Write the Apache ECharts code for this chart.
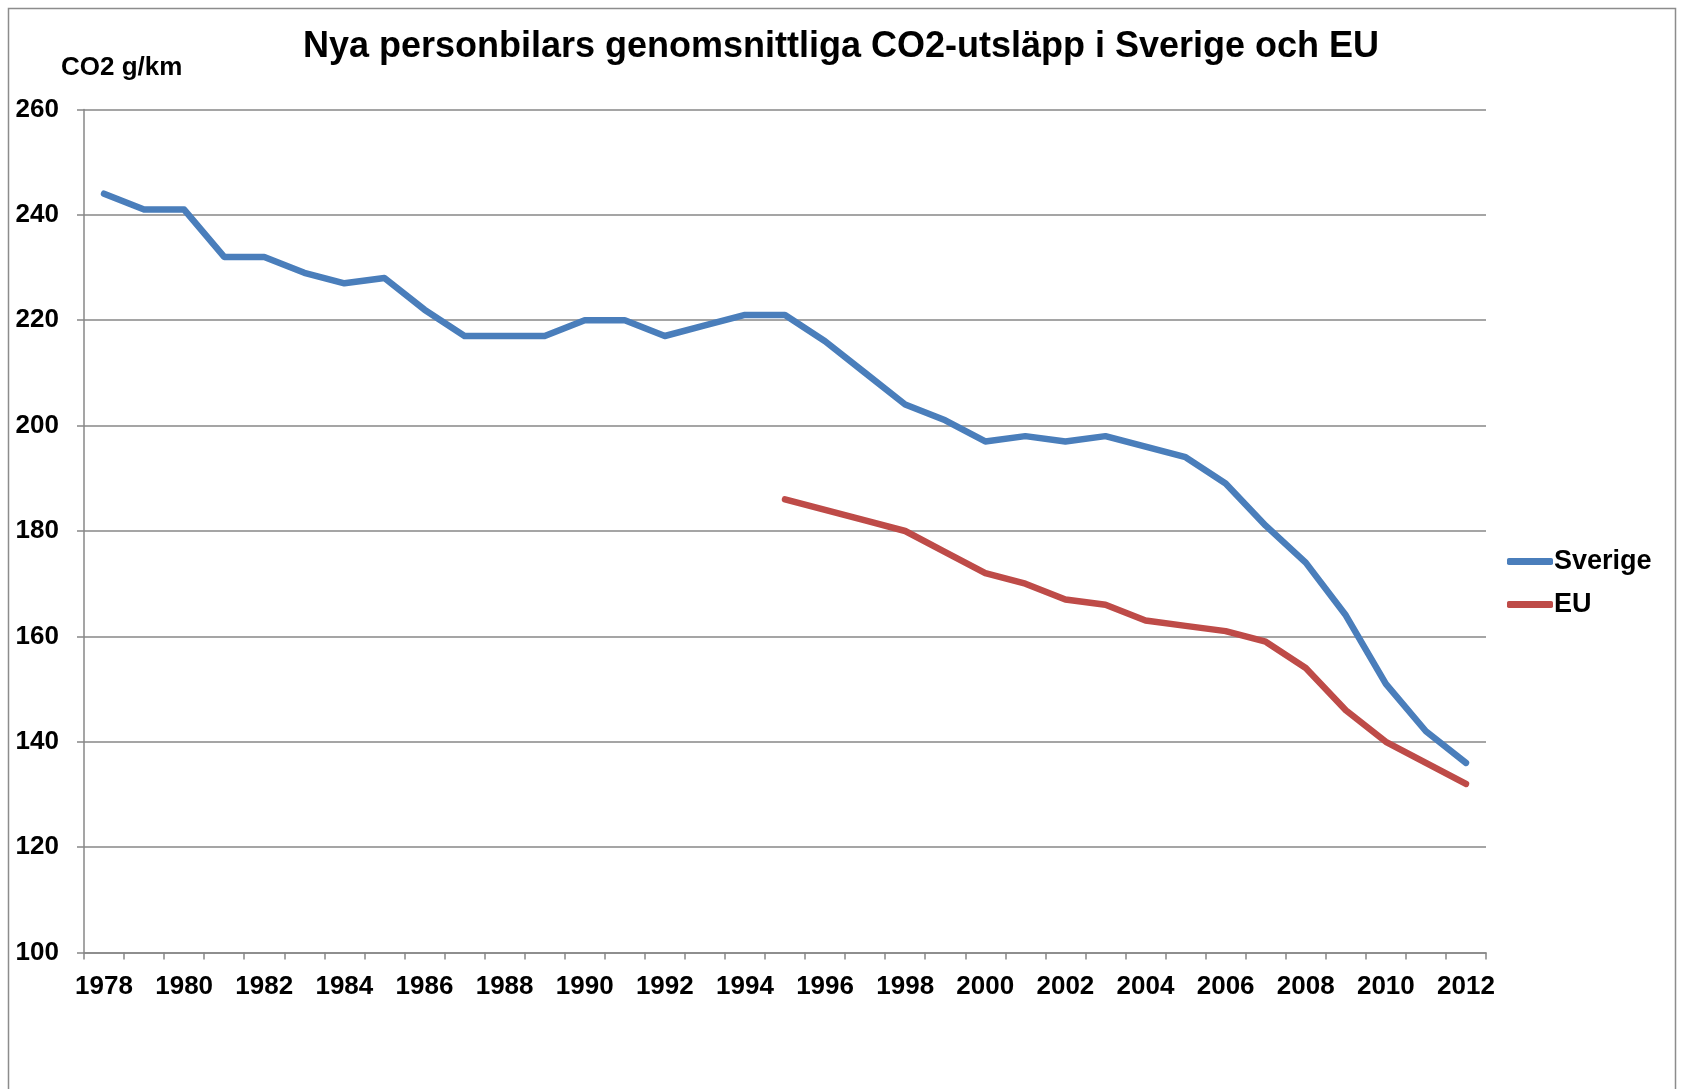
<!DOCTYPE html>
<html>
<head>
<meta charset="utf-8">
<title>CO2-utsläpp</title>
<script src="https://cdn.jsdelivr.net/npm/echarts@6/dist/echarts.min.js"></script>
<style>
  html, body { margin: 0; padding: 0; background: #fff; }
  #chart-container { width: 1682px; height: 1089px; }
</style>
</head>
<body>
<div id="chart-container"></div>
<script>
// data
var years = ['1978', '1979', '1980', '1981', '1982', '1983', '1984', '1985', '1986', '1987',
    '1988', '1989', '1990', '1991', '1992', '1993', '1994', '1995', '1996', '1997',
    '1998', '1999', '2000', '2001', '2002', '2003', '2004', '2005', '2006', '2007',
    '2008', '2009', '2010', '2011', '2012'];
var sverige = [244, 241, 241, 232, 232, 229, 227, 228, 222, 217,
    217, 217, 220, 220, 217, 219, 221, 221, 216, 210,
    204, 201, 197, 198, 197, 198, 196, 194, 189, 181,
    174, 164, 151, 142, 136];
var eu = [null, null, null, null, null, null, null, null, null, null,
    null, null, null, null, null, null, null, 186, 184, 182,
    180, 176, 172, 170, 167, 166, 163, 162, 161, 159,
    154, 146, 140, 136, 132];
var seriesNames = ['Sverige', 'EU'];
var yMin = 100, yMax = 260, yStep = 20;

var dom = document.getElementById('chart-container');
var myChart = echarts.init(dom, null, { renderer: 'canvas' });

var font = 'Liberation Sans, Arial, sans-serif';
var gray = '#878787';

var option = {
    backgroundColor: '#fff',
    animation: false,
    title: [
        {
            text: 'Nya personbilars genomsnittliga CO2-utsläpp i Sverige och EU',
            left: 'center',
            top: 24,
            textStyle: { fontFamily: font, fontWeight: 'bold', fontSize: 36, color: '#000' }
        },
        {
            text: 'CO2 g/km',
            left: 56,
            top: 50,
            textStyle: { fontFamily: font, fontWeight: 'bold', fontSize: 26, color: '#000' }
        }
    ],
    graphic: [
        {
            type: 'rect',
            shape: { x: 8.5, y: 8.5, width: 1667, height: 1200 },
            style: { fill: 'none', stroke: '#8c8c8c', lineWidth: 1.5 },
            silent: true
        }
    ],
    legend: {
        orient: 'vertical',
        left: 1502,
        top: 543,
        icon: 'roundRect',
        itemWidth: 46,
        itemHeight: 7,
        itemGap: 16,
        data: seriesNames,
        textStyle: { fontFamily: font, fontWeight: 'bold', fontSize: 27, color: '#000', padding: [0, 0, 0, -4] }
    },
    grid: {
        left: 84,
        top: 109.4,
        width: 1402,
        height: 843.2,
        containLabel: false
    },
    xAxis: {
        type: 'category',
        data: years,
        boundaryGap: true,
        axisLine: { show: true, lineStyle: { color: gray, width: 1.5 } },
        axisTick: { show: true, interval: 0, length: 7, lineStyle: { color: gray, width: 1.5 } },
        axisLabel: {
            interval: 1,
            margin: 21,
            fontFamily: font,
            fontWeight: 'bold',
            fontSize: 26,
            color: '#000'
        },
        splitLine: { show: false }
    },
    yAxis: {
        type: 'value',
        min: yMin,
        max: yMax,
        interval: yStep,
        axisLine: { show: true, lineStyle: { color: gray, width: 1.5 } },
        axisTick: { show: true, length: 7, lineStyle: { color: gray, width: 1.5 } },
        axisLabel: {
            margin: 25,
            fontFamily: font,
            fontWeight: 'bold',
            fontSize: 26,
            color: '#000'
        },
        splitLine: { show: true, lineStyle: { color: gray, width: 1.5 } }
    },
    series: [
        {
            name: seriesNames[0],
            type: 'line',
            data: sverige,
            symbol: 'none',
            smooth: false,
            color: '#4a7ebb',
            lineStyle: { width: 6.5, color: '#4a7ebb', cap: 'round', join: 'round' }
        },
        {
            name: seriesNames[1],
            type: 'line',
            data: eu,
            symbol: 'none',
            smooth: false,
            color: '#be4b48',
            lineStyle: { width: 6.5, color: '#be4b48', cap: 'round', join: 'round' }
        }
    ]
};

if (option && typeof option === 'object') {
    myChart.setOption(option);
}

window.addEventListener('resize', myChart.resize);
</script>
</body>
</html>
